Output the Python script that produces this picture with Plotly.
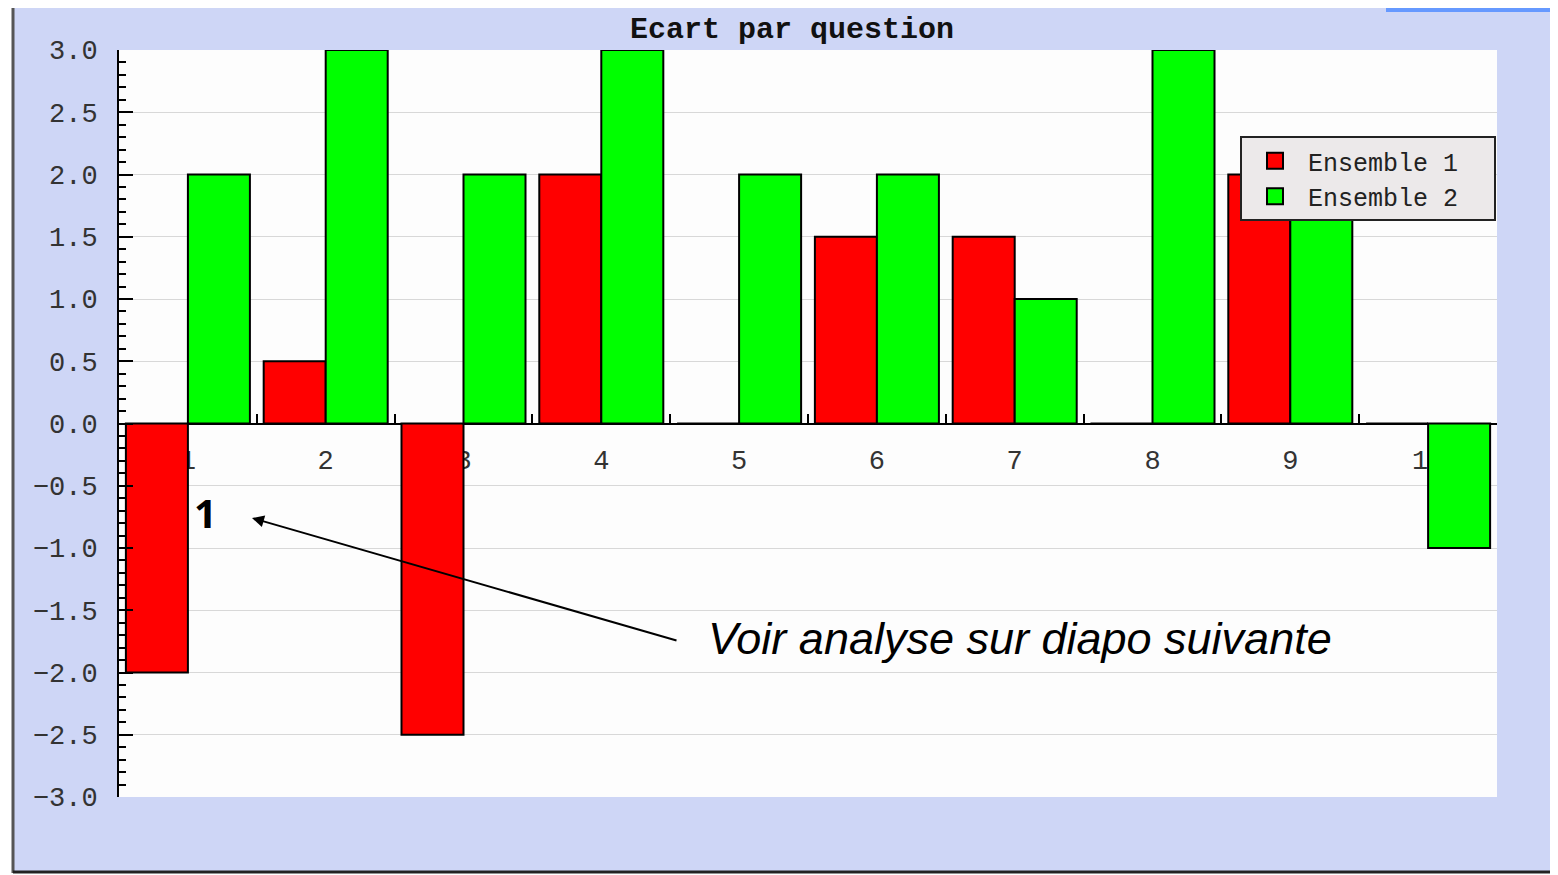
import plotly.graph_objects as go

questions = ["1", "2", "3", "4", "5", "6", "7", "8", "9", "10"]
ensemble1 = [-2.0, 0.5, -2.5, 2.0, 0.0, 1.5, 1.5, 0.0, 2.0, 0.0]
ensemble2 = [2.0, 3.0, 2.0, 3.0, 2.0, 2.0, 1.0, 3.0, 2.0, -1.0]
y_ticks = [-3.0, -2.5, -2.0, -1.5, -1.0, -0.5, 0.0, 0.5, 1.0, 1.5, 2.0, 2.5, 3.0]
series_names = ["Ensemble 1", "Ensemble 2"]
series_colors = ["#ff0000", "#00ff00"]

OFF = 8                      # page body margin
WF, HF = 1550, 867           # figure size
L, R, T, B = 119, 1497, 50, 797   # plot area in screen pixels
pw, ph = R - L, B - T

def px(x):
    return (x - L) / pw

def py(y):
    return (B - y) / ph

mono = "Liberation Mono"

fig = go.Figure()
for vals, name, col in zip([ensemble1, ensemble2], series_names, series_colors):
    fig.add_trace(go.Bar(x=questions, y=vals, name=name, showlegend=False,
                         marker=dict(color=col, line=dict(color="black", width=2))))
# legend proxies (square swatches)
for name, col in zip(series_names, series_colors):
    fig.add_trace(go.Scatter(x=[None], y=[None], mode="markers",
                             name=name + "&nbsp;&nbsp;",
                             marker=dict(symbol="square", size=22, color=col,
                                         line=dict(color="black", width=2))))

fig.update_layout(
    width=WF, height=HF,
    margin=dict(l=L - OFF, r=WF + OFF - R, t=T - OFF, b=HF + OFF - B, pad=0),
    paper_bgcolor="white",
    plot_bgcolor="#fdfdfd",
    barmode="group", bargap=0.1, bargroupgap=0,
    title=dict(text="<b>Ecart par question</b>", x=(792 - OFF) / WF, xanchor="center",
               y=1 - (27 - OFF) / HF, yanchor="middle", yref="container",
               font=dict(family=mono, size=30, color="#111")),
    legend=dict(x=px(1240), y=py(136), xanchor="left", yanchor="top",
                bgcolor="#ece9ea", bordercolor="#222", borderwidth=2,
                font=dict(family=mono, size=25, color="#222"),
                itemsizing="trace", tracegroupgap=0, itemwidth=56),
    showlegend=True,
)

fig.update_yaxes(range=[-3, 3], tickvals=y_ticks, tickformat=".1f",
                 showgrid=True, gridcolor="#d8d8d8", gridwidth=1,
                 showline=True, linecolor="black", linewidth=2,
                 ticks="inside", ticklen=14, tickwidth=2, tickcolor="black",
                 minor=dict(ticks="inside", dtick=0.1, ticklen=7, tickwidth=2,
                            tickcolor="black", showgrid=False),
                 zeroline=False, ticklabelstandoff=14,
                 tickfont=dict(family=mono, size=27, color="#333"),
                 domain=[0, 1], fixedrange=True)

fig.update_xaxes(anchor="free", position=0.5, type="category",
                 showline=True, linecolor="black", linewidth=2,
                 ticks="inside", tickson="boundaries", ticklen=9, tickwidth=2,
                 tickcolor="black", showgrid=False, layer="below traces",
                 ticklabelstandoff=12,
                 tickfont=dict(family=mono, size=27, color="#333"),
                 fixedrange=True)

# frame: periwinkle panel with dark border, blue corner tab
fig.add_shape(type="rect", xref="paper", yref="paper",
              x0=px(13), x1=px(1555), y0=py(872), y1=py(0),
              fillcolor="#ced6f6", line=dict(width=0), layer="below")
fig.add_shape(type="line", xref="paper", yref="paper",
              x0=px(13), x1=px(13), y0=py(873), y1=py(0),
              line=dict(color="#555", width=3), layer="below")
fig.add_shape(type="line", xref="paper", yref="paper",
              x0=px(13), x1=px(1556), y0=py(872), y1=py(872),
              line=dict(color="#222", width=3), layer="below")
fig.add_shape(type="line", xref="paper", yref="paper",
              x0=px(1555), x1=px(1555), y0=py(873), y1=py(0),
              line=dict(color="#222", width=3), layer="below")
fig.add_shape(type="rect", xref="paper", yref="paper",
              x0=px(1386), x1=px(1553), y0=py(12), y1=py(0),
              fillcolor="#6699ff", line=dict(width=0), layer="below")
fig.add_shape(type="rect", xref="paper", yref="paper",
              x0=0, x1=1, y0=0, y1=1,
              fillcolor="#fdfdfd", line=dict(width=0), layer="below")

fig.add_annotation(text="<b>1</b>", xref="paper", yref="paper",
                   x=px(205), y=py(513), xanchor="center", yanchor="middle",
                   showarrow=False, font=dict(family="Noto Sans", size=40, color="black"))
fig.add_annotation(text="<i>Voir analyse sur diapo suivante</i>", xref="paper", yref="paper",
                   x=px(1020), y=py(638), xanchor="center", yanchor="middle",
                   showarrow=False, font=dict(family="Liberation Sans", size=45, color="black"))
fig.add_annotation(text="", xref="paper", yref="paper",
                   x=px(252), y=py(518), ax=678 - 252, ay=641 - 518,
                   showarrow=True, arrowhead=2, arrowsize=1.2, arrowwidth=2,
                   arrowcolor="black")

fig.write_html("out.html")
